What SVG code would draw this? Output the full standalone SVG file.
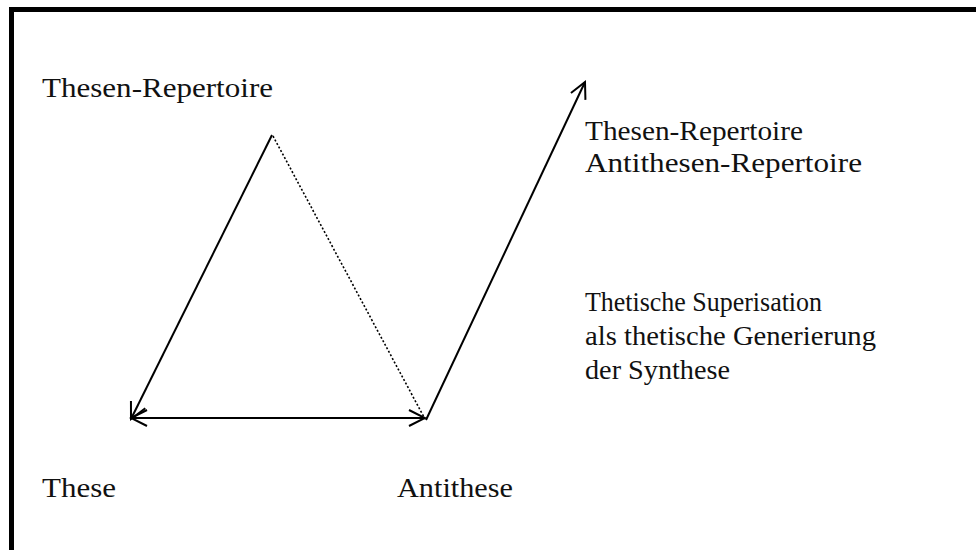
<svg xmlns="http://www.w3.org/2000/svg" width="976" height="550" viewBox="0 0 976 550">
  <style>
    .lbl { font-family: "Liberation Serif", "DejaVu Serif", serif; font-size: 27px; fill: #111; }
    .edge { stroke: #000; stroke-width: 2; fill: none; }
    .dots { stroke: #000; stroke-width: 1.6; fill: none; stroke-dasharray: 2 2; }
  </style>
  <defs>
    <marker id="vhead" viewBox="0 0 20 20" refX="18" refY="10" markerWidth="20" markerHeight="20" markerUnits="userSpaceOnUse" orient="auto-start-reverse">
      <path d="M2,2 L18,10 L2,18" fill="none" stroke="#000" stroke-width="2"/>
    </marker>
  </defs>
  <rect width="976" height="550" fill="#fff"/>
  <!-- frame: top and left rules -->
  <path d="M11.5,550 V9.5 H976" fill="none" stroke="#000" stroke-width="5"/>

  <g id="connectors">
    <line class="edge" x1="272" y1="135" x2="131" y2="419" marker-end="url(#vhead)"/>
    <line class="edge" x1="131" y1="418" x2="425" y2="418" marker-start="url(#vhead)" marker-end="url(#vhead)"/>
    <line class="dots" x1="273" y1="136" x2="425" y2="419"/>
    <line class="edge" x1="426" y1="420" x2="585" y2="82" marker-end="url(#vhead)"/>
  </g>

  <g id="node-thesen-repertoire">
    <text class="lbl" x="42" y="97" textLength="231" lengthAdjust="spacingAndGlyphs">Thesen-Repertoire</text>
  </g>
  <g id="node-these">
    <text class="lbl" x="42" y="497" textLength="74" lengthAdjust="spacingAndGlyphs">These</text>
  </g>
  <g id="node-antithese">
    <text class="lbl" x="397" y="497" textLength="116" lengthAdjust="spacingAndGlyphs">Antithese</text>
  </g>
  <g id="node-repertoires">
    <text class="lbl" x="585" y="140" textLength="218" lengthAdjust="spacingAndGlyphs">Thesen-Repertoire</text>
    <text class="lbl" x="585" y="172" textLength="277" lengthAdjust="spacingAndGlyphs">Antithesen-Repertoire</text>
  </g>
  <g id="node-superisation">
    <text class="lbl" x="585" y="311" textLength="237" lengthAdjust="spacingAndGlyphs">Thetische Superisation</text>
    <text class="lbl" x="585" y="345" textLength="291" lengthAdjust="spacingAndGlyphs">als thetische Generierung</text>
    <text class="lbl" x="585" y="379" textLength="145" lengthAdjust="spacingAndGlyphs">der Synthese</text>
  </g>
</svg>
